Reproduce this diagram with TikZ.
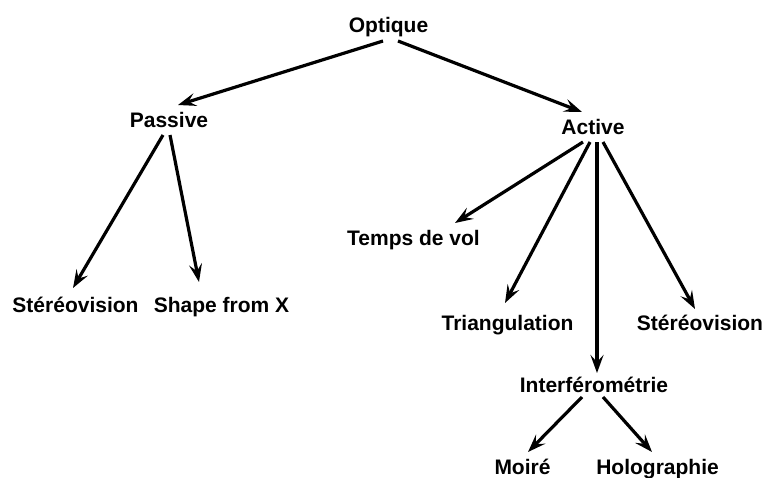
\documentclass[tikz,border=0pt]{standalone}
\usepackage{fontspec}
\setmainfont{Liberation Sans}
\usetikzlibrary{arrows.meta}
\tikzset{
  lbl/.style={inner sep=0pt, anchor=base, font=\fontsize{21}{24}\selectfont\bfseries},
  arr/.style={line width=3.2pt, -{Stealth[length=18pt,width=13pt,inset=7pt]}}
}
\begin{document}
\begin{tikzpicture}[x=1pt,y=-1pt]
\useasboundingbox (0,0) rectangle (765,477);
\node[lbl] (opt) at (388.5,32) {Optique};
\node[lbl] (pas) at (169,127) {Passive};
\node[lbl] (act) at (593,134) {Active};
\node[lbl] (tdv) at (413.5,245) {Temps de vol};
\node[lbl] (stl) at (75.5,312) {Stéréovision};
\node[lbl] (sfx) at (221.5,312) {Shape from X};
\node[lbl] (tri) at (507.5,330) {Triangulation};
\node[lbl] (str) at (700,330) {Stéréovision};
\node[lbl] (int) at (594,392) {Interférométrie};
\node[lbl] (moi) at (522.5,474) {Moiré};
\node[lbl] (hol) at (657.5,474) {Holographie};
\draw[arr] ([shift={(-5.5,9)}]opt.base) -- ([shift={(9,-22)}]pas.base);
\draw[arr] ([shift={(9.5,9)}]opt.base) -- ([shift={(-11,-22)}]act.base);
\draw[arr] ([shift={(-6,8)}]pas.base) -- ([shift={(-2.5,-24)}]stl.base);
\draw[arr] ([shift={(1,8)}]pas.base) -- ([shift={(-22.5,-30)}]sfx.base);
\draw[arr] ([shift={(-10,8)}]act.base) -- ([shift={(41.5,-22)}]tdv.base);
\draw[arr] ([shift={(-3,8)}]act.base) -- ([shift={(-2.5,-27)}]tri.base);
\draw[arr] ([shift={(4,8)}]act.base) -- ([shift={(3,-19)}]int.base);
\draw[arr] ([shift={(10,8)}]act.base) -- ([shift={(-5,-21)}]str.base);
\draw[arr] ([shift={(-12,5)}]int.base) -- ([shift={(5.5,-22)}]moi.base);
\draw[arr] ([shift={(9,5)}]int.base) -- ([shift={(-5.5,-22)}]hol.base);
\end{tikzpicture}
\end{document}
